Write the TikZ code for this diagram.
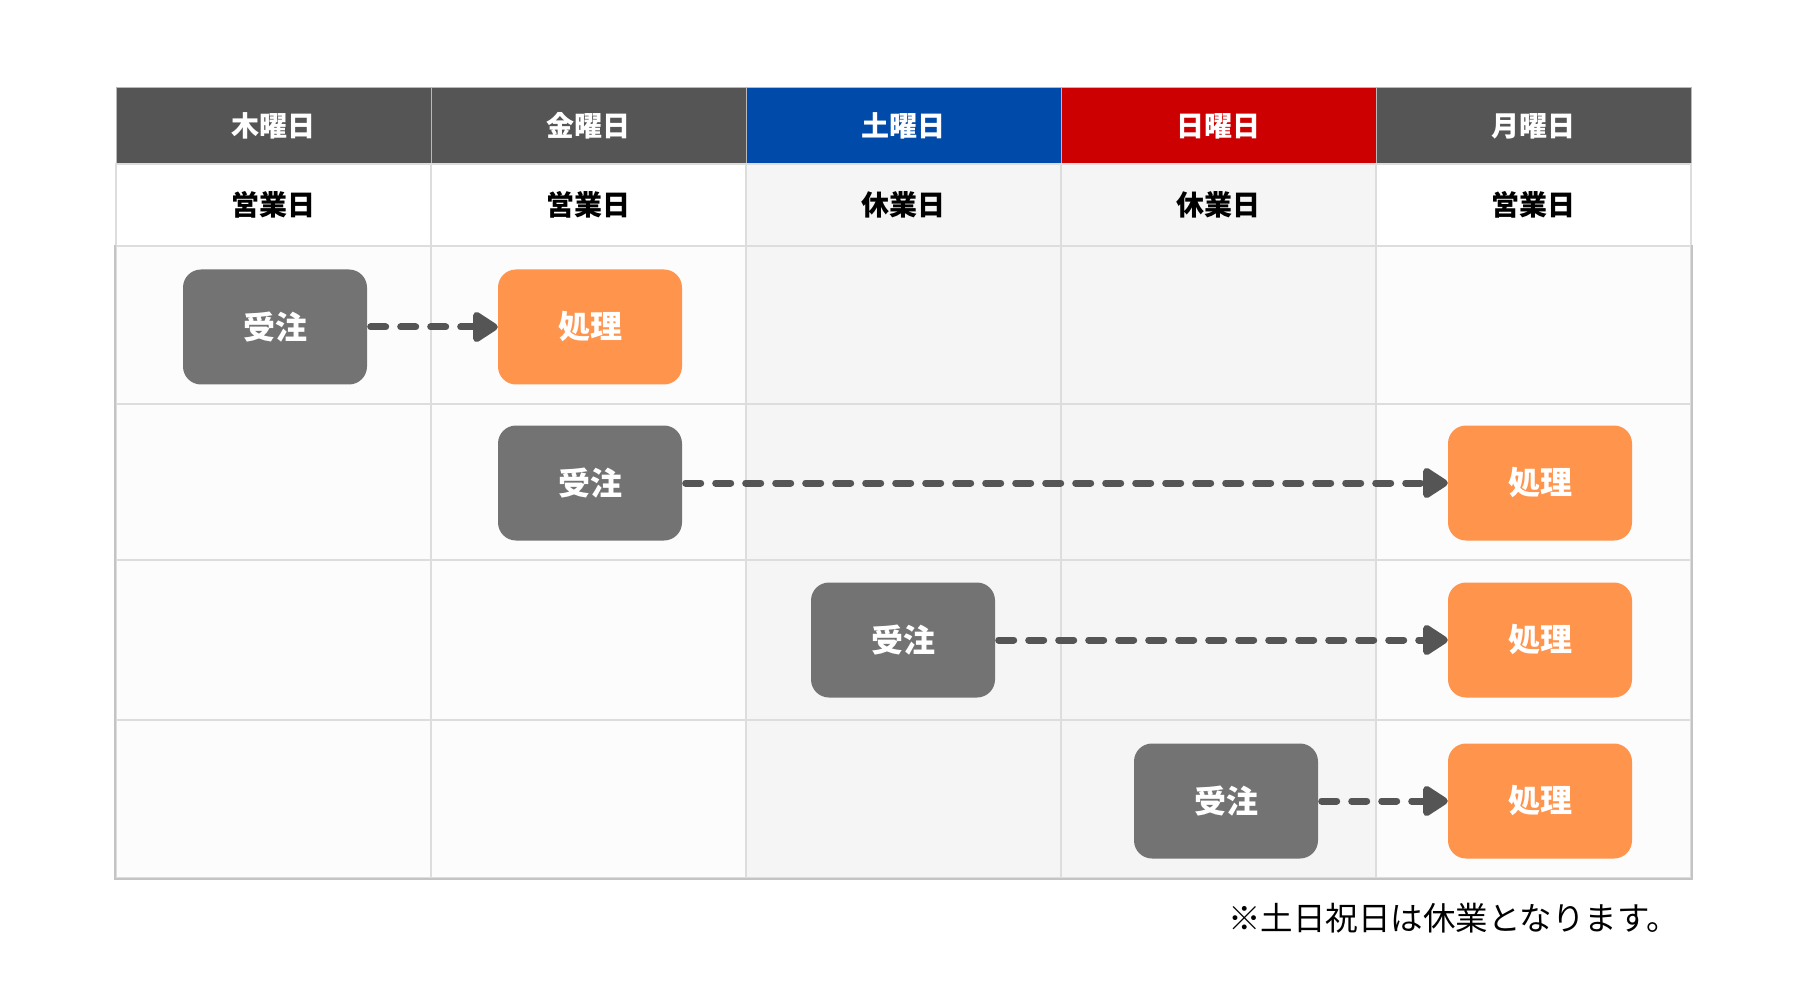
\documentclass[tikz,border=0pt]{standalone}
\usepackage{fontspec}
\setmainfont{Noto Sans CJK JP}
\usetikzlibrary{arrows.meta}

\definecolor{hdgray}{HTML}{555555}
\definecolor{satblue}{HTML}{004BAA}
\definecolor{sunred}{HTML}{CC0000}
\definecolor{gridline}{HTML}{DDDDDD}
\definecolor{rimline}{HTML}{C4C4C4}
\definecolor{workbg}{HTML}{FCFCFC}
\definecolor{restbg}{HTML}{F5F5F5}
\definecolor{ordgray}{HTML}{737373}
\definecolor{prcorange}{HTML}{FF944D}
\definecolor{flowgray}{HTML}{555555}

\begin{document}
\begin{tikzpicture}[
  x=1pt, y=-1pt,
  hdr/.style  ={draw=gray!55, line width=1pt, minimum width=315pt, minimum height=76pt,
                inner sep=0pt, text=white, font=\fontsize{28}{32}\selectfont\bfseries},
  kind/.style ={draw=gridline, line width=2pt, minimum width=315pt, minimum height=82pt,
                inner sep=0pt, text=black, font=\fontsize{28}{32}\selectfont\bfseries},
  cell/.style ={draw=gridline, line width=2pt, minimum width=315pt, inner sep=0pt},
  ord/.style  ={rounded corners=18pt, minimum width=184pt, minimum height=115pt,
                fill=ordgray, text=white, font=\fontsize{32}{36}\selectfont\bfseries},
  prc/.style  ={rounded corners=18pt, minimum width=184pt, minimum height=115pt,
                fill=prcorange, text=white, font=\fontsize{32}{36}\selectfont\bfseries},
  flow/.style ={-{Triangle[length=28pt, width=34pt, round]}, flowgray, line width=7pt,
                line cap=round, dash pattern=on 15pt off 15pt, shorten <=3.5pt},
  note/.style ={font=\fontsize{32.5}{36}\selectfont, text=black, inner sep=0pt},
]
\useasboundingbox (0,0) rectangle (1800,1000);

% ============================ header: day names ============================
\foreach \i/\day/\hc in {1/木曜日/hdgray, 2/金曜日/hdgray, 3/土曜日/satblue,
                         4/日曜日/sunred, 5/月曜日/hdgray} {
  \node[hdr, fill=\hc] (h\i) at ({116+315*(\i-0.5)},126) {\day};
}

% ============================ second row: open or closed ===================
\foreach \i/\txt/\bg in {1/営業日/white, 2/営業日/white, 3/休業日/restbg,
                         4/休業日/restbg, 5/営業日/white} {
  \node[kind, fill=\bg] (k\i) at ({116+315*(\i-0.5)},205) {\txt};
}

% ============================ empty body cells =============================
\foreach \r/\y/\h in {1/325/158, 2/482/156, 3/640/160, 4/799/158} {
  \foreach \i/\bg in {1/workbg, 2/workbg, 3/restbg, 4/restbg, 5/workbg} {
    \node[cell, fill=\bg, minimum height=\h pt] (c\r\i) at ({116+315*(\i-0.5)},\y) {};
  }
}
\draw[rimline, line width=2pt] (c11.north west) -- (c41.south west) -| (c15.north east);

% ============================ orders and their handling ====================
\node[ord] (ord1) at (275,327)  {受注};
\node[prc] (prc1) at (590,327)  {処理};
\node[ord] (ord2) at (590,483)  {受注};
\node[prc] (prc2) at (1540,483) {処理};
\node[ord] (ord3) at (903,640)  {受注};
\node[prc] (prc3) at (1540,640) {処理};
\node[ord] (ord4) at (1226,801) {受注};
\node[prc] (prc4) at (1540,801) {処理};

\foreach \n in {1,2,3,4} {
  \draw[flow] (ord\n.east) -- (prc\n.west);
}

\node[note, anchor=east] (note) at (1679,918) {※土日祝日は休業となります。};

\end{tikzpicture}
\end{document}
